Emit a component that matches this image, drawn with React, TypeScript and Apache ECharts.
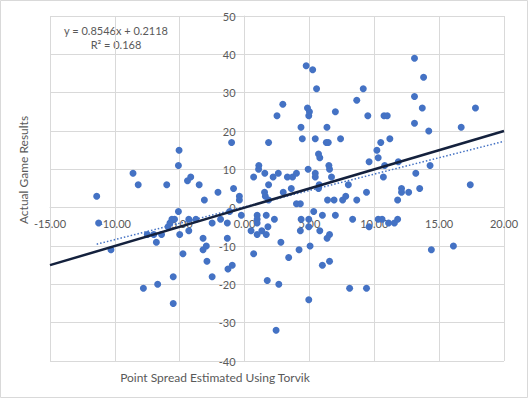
import React, { useEffect, useRef } from "react";
import * as echarts from "echarts";

// Point spread estimated using Torvik (x) and actual game result (y)
const pointSpread = [
  -11.4, -11.25, -10.3, -8.6, -8.2, -7.8, -7.5, -7.0, -6.8, -6.7, -6.4, -6.0, -5.9, -5.75, -5.6, -5.4,
  -5.1, -5.05, -5.1, -5.0, -5.5, -5.5, -4.75, -4.4, -4.15, -4.3, -4.3, -3.75, -3.5, -3.2, -3.2, -2.95,
  -2.9, -3.1, -2.5, -2.5, -2.05, -1.85, -1.33, -1.33, -1.15, -1.28, -0.95, -1.0, -0.85, -0.4, -0.4, -0.25,
  0.5, 0.7, 0.7, 1.1, 1.08, 1.56, 1.85, 2.5, 2.95, 2.2, 2.6, 1.85, 1.54, 2.98, 0.97, 0.97,
  0.97, 0.97, 1.33, 1.67, 1.67, 1.8, 2.3, 2.8, 1.75, 2.64, 2.43, 1.6, 1.85, 3.3, 3.7, 4.0,
  3.6, 4.0, 4.3, 4.35, 4.45, 4.75, 5.25, 5.55, 4.85, 5.0, 4.95, 4.9, 5.45, 5.45, 4.36, 4.95,
  4.95, 4.3, 4.2, 3.4, 5.05, 4.95,
  5.45, 5.7, 5.8, 5.7, 5.75, 5.33, 5.8, 6.0, 6.35, 6.3, 6.45, 6.5, 6.55, 6.7, 6.55, 6.36,
  6.0, 6.55, 6.4, 6.9, 7.0, 7.4, 7.0, 7.56, 7.8, 8.0, 8.65, 9.15, 9.5, 8.65, 8.33, 8.1,
  9.4, 9.4, 9.6, 9.6,
  10.2, 10.3, 10.5, 10.75, 11.0, 10.8, 10.7, 11.2, 11.85, 12.1, 12.1, 12.65, 11.8, 10.3, 10.6, 11.1,
  11.55, 11.8, 13.1, 13.8, 13.1, 13.7, 13.1, 14.2, 13.2, 13.5, 14.3, 14.4, 16.1, 16.7, 17.8, 17.4,
];

const gameResult = [
  3, -4, -11, 9, 6, -21, -7, -7, -9, -20, -7, 6, -5, -4, -3, -3,
  -1, 15, 11, -7, -18, -25, -12, 7, 8, -6, -3, -3, 6, -8, -11, -10,
  -14, 2, -18, -4, 4, -3, -4, -8, -1, -16, -15, 17, 5, 3, 2, -2,
  -6, -12, 8, 11, 10, 9, 17, 24, 27, 8, 9, 6, 4, 4, -2, -3,
  -4, -7, -6, -2, -7, -5, -3, -9, -19, -20, -32, 3, 2, 8, 8, 9,
  5, 1, 1, 21, 18, 37, 36, 31, 26, 25, 24, 10, 9, 8, -3, -3,
  -5, -6, -11, -13, -10, -24,
  18, 14, 13, 5, 6, -1, -6, -2, 21, 17, 17, 11, 10, 8, -7, -8,
  -15, -14, 2, 2, 25, 18, -2, 2, 3, 6, 28, 31, 24, 2, -3, -21,
  -21, 4, 12, -5,
  15, 13, 17, 24, 24, 11, 8, 18, 12, 5, 4, 4, 2, -3, -3, -4,
  -4, -3, 39, 34, 29, 26, 22, 20, 9, 5, 11, -11, -10, 21, 26, 6,
];

// Excel linear trendline (dotted) and the reference line y = x (solid)
const trendSlope = 0.8546;
const trendIntercept = 0.2118;
const rSquared = 0.168;
const trendEndX = 20;
const referenceLineX = [-15, 20];

// axis ranges
const xRange = [-15, 20];
const yRange = [-40, 50];

const xTitle = "Point Spread Estimated Using Torvik";
const yTitle = "Actual Game Results";

const FONT = "Lato, 'Open Sans', sans-serif";
const TEXT = "#595959";
const GRID = "#D9D9D9";

export default function App() {
  const ref = useRef<HTMLDivElement>(null);

  useEffect(() => {
    const chart = echarts.init(ref.current!, null, { renderer: "svg" });
    const points = pointSpread.map((x, i) => [x, gameResult[i]]);
    const minX = Math.min(...pointSpread);
    const trend = [
      [minX, trendSlope * minX + trendIntercept],
      [trendEndX, trendSlope * trendEndX + trendIntercept],
    ];
    const reference = referenceLineX.map((x) => [x, x]);

    const W = 532;
    const H = 399;
    const gLeft = 50;
    const gRight = 28;
    const gTop = 16;
    const gBottom = 38;
    const gW = W - gLeft - gRight;
    const gH = H - gTop - gBottom;
    // place the axes where the other axis crosses zero
    const xAxisOffset = -(gH * (0 - yRange[0])) / (yRange[1] - yRange[0]);
    const yAxisOffset = -(gW * (0 - xRange[0])) / (xRange[1] - xRange[0]);

    chart.setOption({
      animation: false,
      grid: { left: gLeft, right: gRight, top: gTop, bottom: gBottom, containLabel: false },
      xAxis: {
        type: "value",
        min: xRange[0],
        max: xRange[1],
        interval: 5,
        offset: xAxisOffset,
        axisLine: { onZero: false, lineStyle: { color: GRID, width: 1 } },
        axisTick: { show: false },
        splitLine: { show: true, lineStyle: { color: GRID, width: 1 } },
        axisLabel: {
          formatter: (v: number) => v.toFixed(2),
          color: TEXT,
          fontSize: 11,
          fontFamily: FONT,
          margin: 10,
        },
      },
      yAxis: {
        type: "value",
        min: yRange[0],
        max: yRange[1],
        interval: 10,
        offset: yAxisOffset,
        axisLine: { show: true, onZero: false, lineStyle: { color: GRID, width: 1 } },
        axisTick: { show: false },
        splitLine: { show: true, lineStyle: { color: GRID, width: 1 } },
        axisLabel: { color: TEXT, fontSize: 11, fontFamily: FONT, margin: 9 },
      },
      series: [
        {
          type: "scatter",
          data: points,
          symbol: "circle",
          symbolSize: 7,
          itemStyle: { color: "#4472C4", opacity: 1 },
          z: 2,
          silent: true,
        },
        {
          type: "line",
          data: reference,
          showSymbol: false,
          symbol: "none",
          lineStyle: { color: "#14213D", width: 2.5 },
          z: 4,
          silent: true,
        },
        {
          type: "line",
          data: trend,
          showSymbol: false,
          symbol: "none",
          lineStyle: { color: "#4472C4", width: 1.5, type: [1.5, 2] },
          z: 3,
          silent: true,
        },
      ],
      graphic: [
        {
          type: "rect",
          shape: { x: 0.5, y: 0.5, width: 527, height: 397 },
          style: { fill: "none", stroke: GRID, lineWidth: 1 },
          silent: true,
        },
        {
          type: "text",
          x: 116,
          y: 30,
          style: {
            text: `y = ${trendSlope}x + ${trendIntercept}`,
            fill: TEXT,
            font: `11px ${FONT}`,
            align: "center",
            verticalAlign: "middle",
          },
        },
        {
          type: "text",
          x: 116,
          y: 44,
          style: {
            text: `R² = ${rSquared}`,
            fill: TEXT,
            font: `11px ${FONT}`,
            align: "center",
            verticalAlign: "middle",
          },
        },
        {
          type: "text",
          x: 215,
          y: 377,
          style: {
            text: xTitle,
            fill: TEXT,
            font: `12px ${FONT}`,
            align: "center",
            verticalAlign: "middle",
          },
        },
        {
          type: "text",
          x: 23,
          y: 170,
          rotation: Math.PI / 2,
          style: {
            text: yTitle,
            fill: TEXT,
            font: `12px ${FONT}`,
            align: "center",
            verticalAlign: "middle",
          },
        },
      ],
    });

    return () => chart.dispose();
  }, []);

  return (
    <div
      ref={ref}
      style={{ position: "absolute", left: 0, top: 0, width: 532, height: 399 }}
    />
  );
}
